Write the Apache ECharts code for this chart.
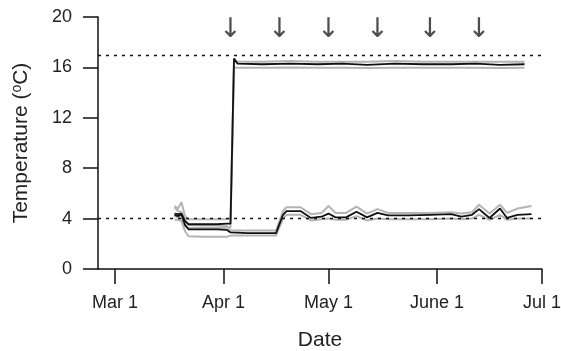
<!DOCTYPE html>
<html>
<head>
<meta charset="utf-8">
<script src="https://cdn.jsdelivr.net/npm/echarts@6/dist/echarts.min.js"></script>
<style>html,body{margin:0;padding:0;background:#fff}#c{width:561px;height:351px}</style>
</head>
<body>
<div id="c"></div>
<script>
// ---- data ----
const tickDates  = ['2010-03-01', '2010-04-01', '2010-05-01', '2010-06-01', '2010-07-01'];
const tickLabels = ['Mar 1', 'Apr 1', 'May 1', 'June 1', 'Jul 1'];
const yTicks = [0, 4, 8, 12, 16, 20];
const refLines = [4, 17];
const arrowDates = ['2010-04-03', '2010-04-17', '2010-05-01', '2010-05-15', '2010-05-30', '2010-06-13'];
const arrowLevel = 19.0;

const warmDates = ['2010-03-18','2010-03-19','2010-03-20','2010-03-21','2010-03-22','2010-03-30','2010-04-02','2010-04-03','2010-04-04','2010-04-05',
  '2010-04-12','2010-04-20','2010-04-28','2010-05-05','2010-05-12','2010-05-20','2010-05-28','2010-06-05','2010-06-12','2010-06-19','2010-06-26'];
const warmMean = [4.4, 4.35, 4.4, 3.8, 3.55, 3.55, 3.6, 3.6, 16.7, 16.3, 16.25, 16.3, 16.25, 16.3, 16.2, 16.3, 16.25, 16.25, 16.3, 16.2, 16.25];
const warmHi   = [5.0, 4.8, 5.3, 4.2, 3.95, 3.95, 3.95, 4.0, 16.5, 16.45, 16.45, 16.5, 16.45, 16.45, 16.45, 16.5, 16.45, 16.45, 16.45, 16.45, 16.45];
const warmLo   = [4.2, 4.1, 4.0, 3.4, 3.25, 3.25, 3.3, 3.3, 16.0, 15.98, 15.98, 16.0, 15.98, 15.98, 15.95, 15.98, 15.98, 15.98, 15.98, 15.95, 15.98];

const coldDates = ['2010-03-18','2010-03-19','2010-03-20','2010-03-21','2010-03-22','2010-03-26','2010-03-30','2010-04-02','2010-04-03','2010-04-08',
  '2010-04-12','2010-04-16','2010-04-18','2010-04-19','2010-04-23','2010-04-26','2010-04-29','2010-05-01','2010-05-03','2010-05-06',
  '2010-05-09','2010-05-12','2010-05-15','2010-05-18','2010-05-24','2010-05-30','2010-06-05','2010-06-08','2010-06-11','2010-06-13',
  '2010-06-16','2010-06-19','2010-06-21','2010-06-24','2010-06-28'];
const coldMean = [4.3, 4.2, 4.3, 3.5, 3.15, 3.15, 3.15, 3.1, 2.9, 2.85, 2.85, 2.85, 4.3, 4.6, 4.6, 4.05, 4.15, 4.4, 4.1, 4.1,
  4.55, 4.1, 4.45, 4.25, 4.25, 4.3, 4.35, 4.15, 4.3, 4.75, 4.05, 4.8, 4.05, 4.3, 4.35];
const coldHi   = [4.9, 4.6, 4.5, 3.9, 3.5, 3.45, 3.45, 3.4, 3.05, 3.05, 3.05, 3.05, 4.6, 4.9, 4.9, 4.35, 4.45, 5.0, 4.45, 4.45,
  4.95, 4.4, 4.75, 4.45, 4.45, 4.45, 4.5, 4.4, 4.5, 5.1, 4.4, 5.1, 4.45, 4.8, 5.0];
const coldLo   = [3.9, 3.9, 3.8, 3.0, 2.6, 2.55, 2.55, 2.55, 2.65, 2.65, 2.65, 2.65, 4.0, 4.3, 4.3, 3.85, 3.95, 4.0, 3.9, 3.9,
  4.2, 3.85, 4.0, 3.95, 3.95, 3.95, 4.0, 3.95, 4.0, 4.3, 3.9, 4.3, 3.9, 4.0, 4.0];

// ---- helpers ----
const DAY = 86400000;
function toTime(s) { const p = s.split('-').map(Number); return Date.UTC(p[0], p[1] - 1, p[2]) / DAY; } // days since epoch
function pairs(dates, vals) { return dates.map((d, i) => [toTime(d), vals[i]]); }
const tickTimes = tickDates.map(toTime);
const xMin = toTime('2010-03-01') - 4.86;
const xMax = toTime('2010-07-01');

const FONT = 'Liberation Sans, Arial, Helvetica, sans-serif';
const GRAY = '#b4b4b4';
const BLACK = '#111111';

function line(data, color, width, z) {
  return { type: 'line', data: data, showSymbol: false, symbol: 'none', silent: true, z: z,
    lineStyle: { color: color, width: width }, animation: false };
}

const chart = echarts.init(document.getElementById('c'), null, { renderer: 'canvas' });
chart.setOption({
  animation: false,
  backgroundColor: '#ffffff',
  grid: { left: 98, right: 19, top: 17, bottom: 82, containLabel: false, outerBoundsMode: 'none' },
  xAxis: {
    type: 'value', min: xMin, max: xMax,
    name: 'Date', nameLocation: 'middle', nameGap: 61,
    nameTextStyle: { fontFamily: FONT, fontSize: 21, color: '#222' },
    axisLine: { show: true, lineStyle: { color: BLACK, width: 1.5 } },
    axisTick: { show: true, customValues: tickTimes, length: 15, inside: false, lineStyle: { color: BLACK, width: 1.5 } },
    axisLabel: { customValues: tickTimes, margin: 25, fontFamily: FONT, fontSize: 18, color: '#222',
      formatter: function (v) { const i = tickTimes.findIndex(t => Math.abs(t - v) < 0.01); return i >= 0 ? tickLabels[i] : ''; } },
    splitLine: { show: false }
  },
  yAxis: {
    type: 'value', min: 0, max: 20, interval: 4,
    name: 'Temperature ({sup|o}C)', nameLocation: 'middle', nameGap: 66, nameRotate: 90,
    nameTextStyle: { fontFamily: FONT, fontSize: 21, color: '#222',
      rich: { sup: { fontFamily: FONT, fontSize: 14, color: '#222', verticalAlign: 'top', padding: [0, 0, 8, 0] } } },
    axisLine: { show: true, lineStyle: { color: BLACK, width: 1.5 } },
    axisTick: { show: true, length: 15, lineStyle: { color: BLACK, width: 1.5 } },
    axisLabel: { margin: 26, fontFamily: FONT, fontSize: 18, color: '#222', padding: [4, 0, 0, 0],
      formatter: function (v) { return yTicks.indexOf(v) >= 0 ? String(v) : ''; } },
    splitLine: { show: false }
  },
  series: [
    line(pairs(coldDates, coldHi), GRAY, 2, 2),
    line(pairs(coldDates, coldLo), GRAY, 2, 2),
    line(pairs(warmDates, warmHi), GRAY, 2, 2),
    line(pairs(warmDates, warmLo), GRAY, 2, 2),
    Object.assign(line(pairs(coldDates, coldMean), BLACK, 1.8, 3), {
      markLine: { silent: true, symbol: 'none', label: { show: false }, animation: false,
        lineStyle: { color: BLACK, type: [3, 5], width: 1.4 },
        data: refLines.map(v => ({ yAxis: v })) }
    }),
    line(pairs(warmDates, warmMean), BLACK, 1.8, 3),
    { type: 'scatter', silent: true, symbolSize: 0, z: 5, animation: false,
      data: arrowDates.map(d => [toTime(d), arrowLevel]),
      label: { show: true, position: 'inside', formatter: '\u2193', fontFamily: 'DejaVu Sans, sans-serif', fontSize: 27, color: '#222' } }
  ]
});
</script>
</body>
</html>
